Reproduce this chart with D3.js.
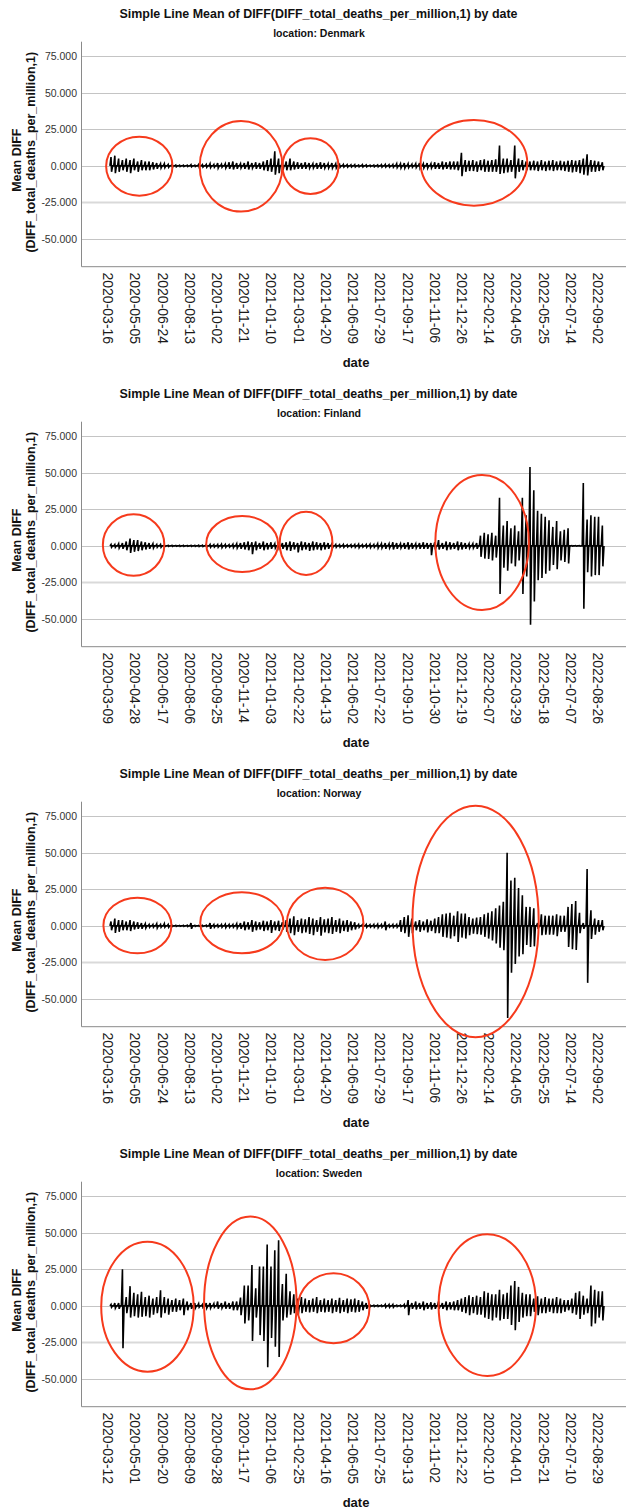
<!DOCTYPE html>
<html><head><meta charset="utf-8">
<script src="https://cdn.jsdelivr.net/npm/d3@7"></script>
<style>body{margin:0;background:#fff}svg{display:block}</style>
</head><body><div id="chart"></div>
<script>
// ---------- DATA ----------
const countries = ["Denmark", "Finland", "Norway", "Sweden"];

const denmarkTicks = ["2020-03-16","2020-05-05","2020-06-24","2020-08-13","2020-10-02","2020-11-21","2021-01-10","2021-03-01","2021-04-20","2021-06-09","2021-07-29","2021-09-17","2021-11-06","2021-12-26","2022-02-14","2022-04-05","2022-05-25","2022-07-14","2022-09-02"];
const finlandTicks = ["2020-03-09","2020-04-28","2020-06-17","2020-08-06","2020-09-25","2020-11-14","2021-01-03","2021-02-22","2021-04-13","2021-06-02","2021-07-22","2021-09-10","2021-10-30","2021-12-19","2022-02-07","2022-03-29","2022-05-18","2022-07-07","2022-08-26"];
const norwayTicks = ["2020-03-16","2020-05-05","2020-06-24","2020-08-13","2020-10-02","2020-11-21","2021-01-10","2021-03-01","2021-04-20","2021-06-09","2021-07-29","2021-09-17","2021-11-06","2021-12-26","2022-02-14","2022-04-05","2022-05-25","2022-07-14","2022-09-02"];
const swedenTicks = ["2020-03-12","2020-05-01","2020-06-20","2020-08-09","2020-09-28","2020-11-17","2021-01-06","2021-02-25","2021-04-16","2021-06-05","2021-07-25","2021-09-13","2021-11-02","2021-12-22","2022-02-10","2022-04-01","2022-05-21","2022-07-10","2022-08-29"];

const yTickValues = [75, 50, 25, 0, -25, -50];

// weekly extremes (upper / lower) of the series
const denmarkHigh = [6,7,5,4,5,4,5,3,4,3, 3,2.5,2,1.5,1.5,1,1,0.6,0.5,0.5, 0.5,0.8,0.5,1,0.8,1,1.5,1,2,1.2, 1.5,2.5,3,2,1.5,2,3,2,2.5,2, 3,4,5,10,5,4,3,5,3,2.5, 2,2.5,2,1.5,2,2.5,2,1.5,2,1.5, 1,1,0.8,0.7,0.8,0.6,0.8,0.7,0.5,0.6, 0.7,0.8,1,0.8,1,1.5,1.5,2,1.5,1.2, 1.5,2,1.5,2,1.5,2.5,2,3,2.5,3, 3,3,9,4,3.5,4,3,4,4.5,3.5, 4,4.5,14,5,5,4,14,5,4,3, 3,3.5,3,4,3,3.5,4,3,3.5,3, 3.5,4,3.5,4,5,8,4,3.5,3,2.5];
const denmarkLow = [-4,-5,-4,-3,-4,-5,-3,-4,-3,-3, -3,-2.5,-2,-1.5,-1.2,-1,-0.8,-0.6,-0.5,-0.5, -0.5,-0.6,-0.5,-0.8,-0.8,-1,-1.2,-1,-1.5,-1, -1.5,-2,-2.5,-2,-1.5,-2,-2.5,-1.5,-2,-2, -3,-3.5,-4,-6,-5,-3,-3,-3,-2.5,-2, -2,-2,-1.5,-1.5,-2,-2,-1.5,-1.5,-1.5,-1.5, -1,-0.8,-0.8,-0.7,-0.7,-0.6,-0.7,-0.6,-0.5,-0.6, -0.6,-0.8,-0.8,-0.8,-1,-1.2,-1.5,-1.5,-1.2,-1, -1.2,-1.5,-1.5,-1.5,-1.5,-2,-2,-2.5,-2,-2.5, -2.5,-3,-7,-4,-3.5,-3.5,-4,-3,-4,-4, -4,-4,-5.5,-5,-4.5,-4,-8.5,-4,-3,-3, -3,-3,-3.5,-3,-3.5,-3,-3.5,-3,-3,-3.5, -4,-4.5,-4,-5,-6,-6.5,-4,-4,-3.5,-3];

const finlandHigh = [1,1,1.5, 2,3,5,4,4,3,2.5, 2,1.5,1,1, 0.5,0.4,0.4,0.3,0.4,0.4,0.3,0.4,0.4,0.5,0.5, 0.8,1,0.8,1,1.2,1,0.8,1.2,1.5, 2,2.5,3,2.5,3,2,3,2,2.5, 1.5,1.5,2, 2.5,3,2.5,2,3,2.5,2,3,2.5,2,2.5,2,1.5, 1,0.8,1,0.7,0.8,1,1.2,0.8,1,1.2,1,1.5, 1.5,2,1.5,2.5,2,1.5,2,2.5,2,1.5,2,2.5, 2,2,2.5,4,2,3,2.5,2,3,2.5,2,1.5,1.5,2, 7,8.9,8,9,7, 33,14,17,12,14,10,33,21,54,38,24,22,20,17.6,13,17,10,11,12,0.2,0.2,0.2,43,18,21,20,20,14];
const finlandLow = [-1,-1,-1.5, -2,-3,-4.8,-4,-3.5,-3,-2.5, -2,-1.5,-1,-1, -0.5,-0.4,-0.4,-0.3,-0.4,-0.4,-0.3,-0.4,-0.4,-0.5,-0.5, -0.8,-1,-0.8,-1,-1.2,-1,-0.8,-1.2,-1.5, -2,-2.5,-3,-5.7,-3,-2,-3,-2.5,-2, -1.5,-1.5,-2, -3,-3.4,-2.5,-4.5,-3,-2.5,-3.4,-3,-2.5,-3,-2.5,-2,-1.5, -1,-0.8,-1,-0.7,-0.8,-1,-1.2,-0.8,-1,-1.2,-1,-1.5, -1.5,-2,-1.5,-2.5,-2,-1.5,-2,-2.5,-2,-1.5,-2,-2, -2,-6.4,-2.5,-2.5,-2,-3,-2.5,-2,-3,-2.5,-2,-1.5,-1.5,-2, -7.5,-8.7,-9,-10,-8, -33,-15,-17,-12,-14,-10,-33,-21,-54,-38,-23.5,-22,-19,-17,-13,-16,-10,-11,-12,-0.2,-0.2,-0.2,-43,-18,-21,-20,-20,-14];

const norwayHigh = [3,5,4,4,3,4,3,2.5,2, 1.5,1,1,1.5,1,1.5,1, 0.4,0.4,0.3,0.4,0.5,2,0.4,0.3,0.4,0.5, 2,1,0.8,1,1.2,1,1,1.5, 2,3,2.5,4,3,2.5,3.5,3,4,3,3.5,2.5, 4,5,6.6,4,5,4.5,6,5,4,6,4.5,5,6,4,5,3.5,4,3,2.5, 1,0.8,1,0.8,1,1.2,1,3,0.8,1,1,4, 6,7.3,5,3,4,3,4.5,3.5,5, 6,8,8.5,9,7,10,8.5,8.5,6,5,5.7,6,8,9,10,12,14,16.5,50, 31,33,26,21,13,13,12,2,8,7,7,7,8,7,7,13,15,17,9,2,39,10.7,5,4,4];
const norwayLow = [-3,-4.8,-4,-3,-3,-3.5,-2.5,-2,-2, -1.5,-1,-1,-1.5,-1,-1,-1, -0.4,-0.4,-0.3,-0.4,-0.5,-2,-0.4,-0.3,-0.4,-0.5, -2,-1,-0.8,-1,-1.2,-1,-1,-1.5, -2,-3,-2.5,-4,-3,-2.5,-3.5,-3,-4.8,-3,-3.5,-2.5, -4,-5,-6.4,-4,-5,-4.5,-5.5,-6.4,-4,-6.7,-4.5,-5,-5.5,-4,-5,-3.5,-4,-3,-2.5, -1,-0.8,-1,-0.8,-1,-1.2,-1,-3,-0.8,-1,-1,-4, -5,-7.5,-5,-3,-4,-3,-4.5,-3.5,-5, -5,-7.5,-8,-8.7,-7,-11,-8,-8.7,-6.4,-5.3,-5.7,-6,-7.5,-8.7,-10,-12,-15,-16.7,-63, -32,-26,-21,-19.4,-13,-14.4,-14,-2,-6.4,-6,-6,-6,-7,-4,-4,-14.4,-16,-16.5,-5,-2,-39,-9,-6,-4,-3];

const swedenHigh = [1,2,2,25,6,13.5,9,8,9.6,6,7,5,6,10.7,6,5,4,5,4,5,3,2,2,1.5,1,2,2,1.5,3,2,3,2,3,3, 5.7,14,14,28,12,27,27,42,27,38,45,15,22,10,8, 5,6,5,4,5,6,4,5,4,5,4,5.5,4,5,4.5,5,4,3,2, 0.5,0.5,0.5,0.5,1,1,1,0.5,0.5,1, 4,2,3,2,3,2,2.5,2,3,2,3,2.5,3,4,5,6,7.3,6,7,6, 10,9,8,8,11,8,9,14,17,13,9,8,8,5, 6.6,5,6,5,5,6,5,4, 4,5,9,10,7,5,14,11,10,10];
const swedenLow = [-1,-1.5,-2,-29,-5,-8,-7,-8,-7.5,-7,-8,-6,-5,-8,-5,-6,-4,-4,-3,-6.4,-3,-2,-1.5,-1,-1,-1.5,-1.5,-1,-2,-1.5,-2,-2,-3,-3, -6.4,-12,-10,-24,-8,-20,-24,-42,-22,-28,-35,-10,-8,-6,-5, -6.4,-5,-4,-4.5,-4,-5,-4,-4.5,-4,-5,-4,-5,-4,-5,-4,-4.5,-4,-3,-2, -0.5,-0.5,-0.5,-0.5,-1,-1,-1,-0.5,-0.5,-1, -6.4,-2,-2.5,-2,-3,-2,-2.5,-2,-2,-2,-3,-2.5,-3,-3,-4,-5,-6.4,-5,-6,-6, -8,-9,-10,-8,-10,-9,-9,-13,-16.7,-11,-8,-7,-7,-4, -6.4,-5,-5,-4,-5,-5,-5,-4, -3,-5,-6,-9,-6,-5,-14,-12,-8,-10];

// circled regions drawn on the chart: [fromDay, toDay, lowValue, highValue] (days counted from first category)
const denmarkMarks = [[-3.5,118.6,-20.4,20.0],[168.6,320,-31.3,30.7],[320,423,-19.2,18.9],[574.4,770,-27.2,31.4]];
const finlandMarks = [[-9.4,103.9,-20.4,21.6],[180.3,312.7,-17.9,20.5],[315.6,412.7,-19.9,23.4],[601,773,-43.9,48.5]];
const norwayMarks = [[-8.5,116.4,-18.8,19.3],[169.5,322.4,-18.8,23],[328,469.7,-23.3,26.1],[559.2,791.5,-76.2,82.3]];
const swedenMarks = [[-12.3,157.4,-45,43.9],[176.5,346.1,-57.1,61.1],[348,480.5,-25.6,22.3],[607.2,786.4,-48,49]];

// ---------- LAYOUT ----------
const W = 626, H = 1512, panelH = 380;
const FONT = "'Liberation Sans', Arial, Helvetica, sans-serif";
const plot = {left: 81.5, right: 626, top: 41.7, bottom: 266.7};
const xLeft = 108.3, xRight = 598;
const firstDataDay = 2;

const panels = [
  {name: countries[0], ticks: denmarkTicks, high: denmarkHigh, low: denmarkLow, marks: denmarkMarks},
  {name: countries[1], ticks: finlandTicks, high: finlandHigh, low: finlandLow, marks: finlandMarks},
  {name: countries[2], ticks: norwayTicks, high: norwayHigh, low: norwayLow, marks: norwayMarks},
  {name: countries[3], ticks: swedenTicks, high: swedenHigh, low: swedenLow, marks: swedenMarks}
];

const svg = d3.select("#chart").append("svg").attr("width", W).attr("height", H)
  .style("font-family", FONT);
const fmt = d3.formatLocale({decimal: ".", thousands: ",", grouping: [3], currency: ["", ""], minus: "-"}).format(".3f");
const parse = d3.utcParse("%Y-%m-%d");
const y = d3.scaleLinear().domain([-69, 85]).range([plot.bottom, plot.top]);

function fitText(sel, target) {
  const len = sel.node().getComputedTextLength();
  const fs = parseFloat(sel.attr("font-size"));
  if (len > 0) sel.attr("font-size", (fs * target / len).toFixed(2));
}

panels.forEach((p, k) => {
  const g = svg.append("g").attr("transform", `translate(0,${k * panelH})`);
  const t0 = parse(p.ticks[0]);
  const x = d3.scaleUtc().domain([t0, parse(p.ticks[p.ticks.length - 1])]).range([xLeft, xRight]);
  const xd = d => x(d3.utcDay.offset(t0, d));

  // title
  const title = g.append("text").attr("x", 318.5).attr("y", 17.5).attr("text-anchor", "middle")
    .attr("font-size", 12.5).attr("font-weight", "bold").attr("fill", "#111")
    .text("Simple Line Mean of DIFF(DIFF_total_deaths_per_million,1) by date");
  fitText(title, 398);
  g.append("text").attr("x", 319).attr("y", 37).attr("text-anchor", "middle")
    .attr("font-size", 10.5).attr("font-weight", "bold").attr("fill", "#111")
    .text("location: " + p.name);

  // gridlines
  g.append("g").selectAll("line").data(yTickValues).join("line")
    .attr("x1", plot.left).attr("x2", plot.right)
    .attr("y1", d => Math.round(y(d)) + 0.5).attr("y2", d => Math.round(y(d)) + 0.5)
    .attr("stroke", d => d === -25 ? "#d9d9d9" : "#c4c4c4")
    .attr("stroke-width", d => d === -25 ? 2 : 1);

  // axes lines
  g.append("line").attr("x1", plot.left).attr("x2", plot.left).attr("y1", plot.top).attr("y2", plot.bottom)
    .attr("stroke", "#8a8a8a");
  g.append("line").attr("x1", plot.left).attr("x2", plot.right).attr("y1", plot.bottom).attr("y2", plot.bottom)
    .attr("stroke", "#8a8a8a");

  // y tick labels
  g.append("g").selectAll("text").data(yTickValues).join("text")
    .attr("x", 77).attr("y", d => y(d)).attr("dy", "0.35em").attr("text-anchor", "end")
    .attr("font-size", 10.5).attr("fill", "#333").text(d => fmt(d));

  // x tick labels (vertical)
  const xl = g.append("g").selectAll("text").data(p.ticks).join("text")
    .attr("transform", d => `translate(${x(parse(d))},272.5) rotate(90)`)
    .attr("dy", "0.36em").attr("text-anchor", "start")
    .attr("font-size", 14).attr("fill", "#1a1a1a").text(d => d);
  const len = xl.nodes()[0].getComputedTextLength();
  xl.attr("font-size", (14 * 71.7 / len).toFixed(2));

  // axis titles
  g.append("text").attr("x", 356).attr("y", 367).attr("text-anchor", "middle")
    .attr("font-size", 13).attr("font-weight", "bold").attr("fill", "#111").text("date");
  const yc = (plot.top + plot.bottom) / 2;
  g.append("text").attr("transform", `translate(20.5,${yc + 6}) rotate(-90)`).attr("text-anchor", "middle")
    .attr("font-size", 12.5).attr("font-weight", "bold").attr("fill", "#111").text("Mean DIFF");
  g.append("text").attr("transform", `translate(34.5,${yc - 2}) rotate(-90)`).attr("text-anchor", "middle")
    .attr("font-size", 12.5).attr("font-weight", "bold").attr("fill", "#111").text("(DIFF_total_deaths_per_million,1)");

  // series line: per week a rise to the upper value and a drop to the lower value
  const pts = [];
  p.high.forEach((h, i) => {
    const d0 = firstDataDay + 7 * i;
    pts.push([d0 + 1, 0], [d0 + 3, h], [d0 + 4, p.low[i]], [d0 + 6, 0]);
  });
  const line = d3.line().x(d => xd(d[0])).y(d => y(d[1]));
  g.append("path").datum(pts).attr("d", line).attr("fill", "none")
    .attr("stroke", "#000").attr("stroke-width", 1.6).attr("stroke-linejoin", "miter");

  // red circled annotations
  g.append("g").selectAll("ellipse").data(p.marks).join("ellipse")
    .attr("cx", d => (xd(d[0]) + xd(d[1])) / 2)
    .attr("cy", d => (y(d[2]) + y(d[3])) / 2)
    .attr("rx", d => (xd(d[1]) - xd(d[0])) / 2)
    .attr("ry", d => (y(d[2]) - y(d[3])) / 2)
    .attr("fill", "none").attr("stroke", "#f63a1c").attr("stroke-width", 2);
});
</script>
</body></html>
